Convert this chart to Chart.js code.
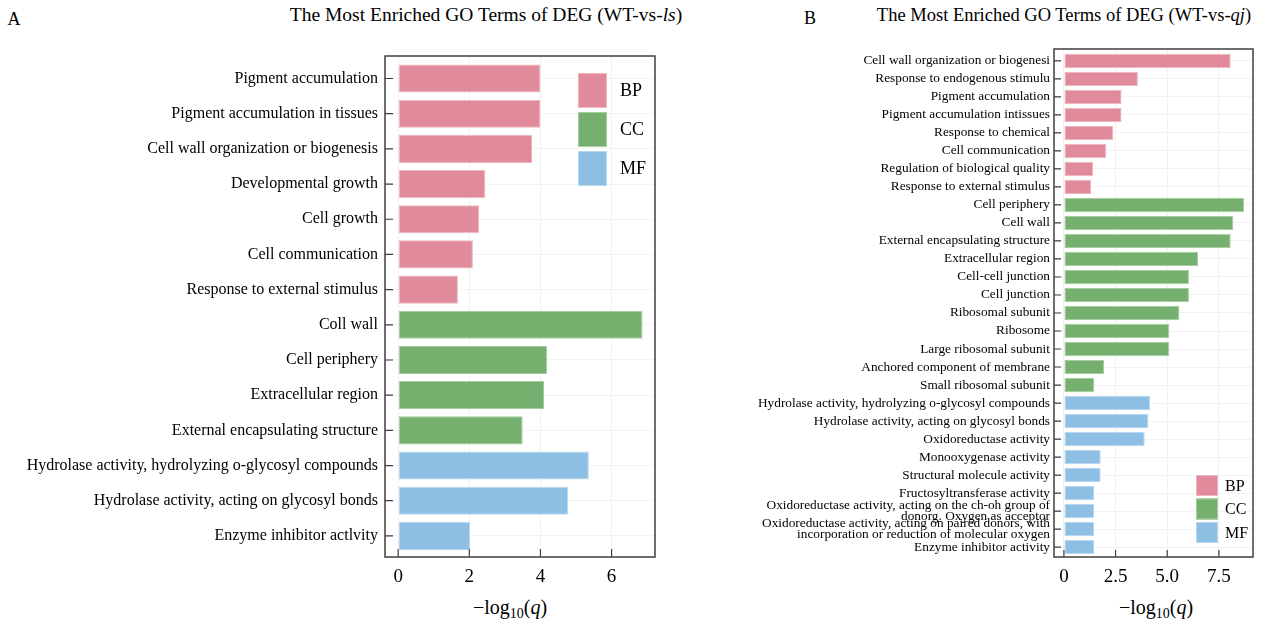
<!DOCTYPE html>
<html>
<head>
<meta charset="utf-8">
<script src="https://cdn.jsdelivr.net/npm/chart.js@4/dist/chart.umd.min.js"></script>
<style>
  html, body { margin: 0; padding: 0; background: #fff; }
  body { width: 1264px; height: 624px; position: relative; overflow: hidden;
         font-family: "Liberation Serif", "Times New Roman", serif; color: #000; }
  canvas { position: absolute; top: 0; }
  .txt { position: absolute; white-space: nowrap; transform: translate(-50%, -50%); line-height: 1; }
  .txt sub { font-size: 0.7em; vertical-align: -0.3em; line-height: 0; }
</style>
</head>
<body>
<div class="txt" style="left:14px; top:19px; font-size:18px;">A</div>
<div class="txt" style="left:486px; top:15px; font-size:19.5px;">The Most Enriched GO Terms of DEG (WT-vs-<i>ls</i>)</div>
<div class="txt" style="left:810px; top:18px; font-size:18px;">B</div>
<div class="txt" style="left:1064px; top:15px; font-size:18.5px;">The Most Enriched GO Terms of DEG (WT-vs-<i>qj</i>)</div>
<div class="txt" style="left:510px; top:607px; font-size:20px;">−log<sub>10</sub>(<i>q</i>)</div>
<div class="txt" style="left:1156px; top:607px; font-size:20px;">−log<sub>10</sub>(<i>q</i>)</div>

<canvas id="chartA" width="700" height="624" style="left:0; width:700px; height:624px;"></canvas>
<canvas id="chartB" width="564" height="624" style="left:700px; width:564px; height:624px;"></canvas>

<script>
// GO categories
const groupNames = ['BP', 'CC', 'MF'];

// Panel A: WT-vs-ls
const termsA = [
  'Pigment accumulation',
  'Pigment accumulation in tissues',
  'Cell wall organization or biogenesis',
  'Developmental growth',
  'Cell growth',
  'Cell communication',
  'Response to external stimulus',
  'Coll wall',
  'Cell periphery',
  'Extracellular region',
  'External encapsulating structure',
  'Hydrolase activity, hydrolyzing o-glycosyl compounds',
  'Hydrolase activity, acting on glycosyl bonds',
  'Enzyme inhibitor actlvity'
];
const valuesA = [4.0, 4.0, 3.77, 2.45, 2.28, 2.1, 1.68, 6.87, 4.19, 4.1, 3.5, 5.36, 4.78, 2.02];
const groupsA = ['BP','BP','BP','BP','BP','BP','BP','CC','CC','CC','CC','MF','MF','MF'];
const xTicksA = [0, 2, 4, 6];

// Panel B: WT-vs-qj
const termsB = [
  'Cell wall organization or biogenesi',
  'Response to endogenous stimulu',
  'Pigment accumulation',
  'Pigment accumulation intissues',
  'Response to chemical',
  'Cell communication',
  'Regulation of biological quality',
  'Response to external stimulus',
  'Cell periphery',
  'Cell wall',
  'External encapsulating structure',
  'Extracellular region',
  'Cell-cell junction',
  'Cell junction',
  'Ribosomal subunit',
  'Ribosome',
  'Large ribosomal subunit',
  'Anchored component of membrane',
  'Small ribosomal subunit',
  'Hydrolase activity, hydrolyzing o-glycosyl compounds',
  'Hydrolase activity, acting on glycosyl bonds',
  'Oxidoreductase activity',
  'Monooxygenase activity',
  'Structural molecule activity',
  'Fructosyltransferase activity',
  ['Oxidoreductase activity, acting on the ch-oh group of', 'donorg. Oxygen as acceptor'],
  ['Oxidoreductase activity, acting on paired donors, with', 'incorporation or reduction of molecular oxygen'],
  'Enzyme inhibitor activity'
];
const valuesB = [8.07, 3.58, 2.79, 2.79, 2.39, 2.05, 1.41, 1.31,
                 8.72, 8.2, 8.07, 6.49, 6.05, 6.05, 5.59, 5.1, 5.1, 1.94, 1.47,
                 4.17, 4.09, 3.91, 1.78, 1.78, 1.47, 1.47, 1.47, 1.47];
const groupsB = ['BP','BP','BP','BP','BP','BP','BP','BP',
                 'CC','CC','CC','CC','CC','CC','CC','CC','CC','CC','CC',
                 'MF','MF','MF','MF','MF','MF','MF','MF','MF'];
const xTicksB = [0, 2.5, 5, 7.5];

// Styling
const fill = { BP: '#E08A9B', CC: '#76B06E', MF: '#8DBFE5' };
const edge = { BP: '#EDB6C1', CC: '#A5CD9F', MF: '#B9D8F0' };
const SERIF = '"Liberation Serif", "Times New Roman", serif';

// Box around the plot area plus inward tick marks
const framePlugin = {
  id: 'frame',
  afterDatasetsDraw(chart, args, opts) {
    const { ctx, chartArea: { left, right, top, bottom }, scales: { x, y } } = chart;
    ctx.save();
    ctx.strokeStyle = opts.color;
    ctx.lineWidth = opts.width;
    ctx.strokeRect(left, top, right - left, bottom - top);
    ctx.lineWidth = 1.2;
    ctx.beginPath();
    y.ticks.forEach(t => {
      const py = y.getPixelForValue(t.value);
      ctx.moveTo(left, py); ctx.lineTo(left + opts.tick, py);
    });
    x.ticks.forEach(t => {
      const px = x.getPixelForValue(t.value);
      ctx.moveTo(px, bottom); ctx.lineTo(px, bottom - opts.tick);
    });
    ctx.stroke();
    ctx.restore();
  }
};

// Category key drawn inside the plot area
const keyPlugin = {
  id: 'groupKey',
  afterDatasetsDraw(chart, args, o) {
    const { ctx, chartArea } = chart;
    const x0 = chartArea.right - o.fromRight;
    let y0 = o.fromTop != null ? chartArea.top + o.fromTop : chartArea.bottom - o.fromBottom;
    ctx.save();
    ctx.font = o.fontSize + 'px ' + SERIF;
    ctx.textBaseline = 'middle';
    ctx.textAlign = 'left';
    groupNames.forEach((g, i) => {
      const yy = y0 + i * o.step;
      ctx.fillStyle = fill[g];
      ctx.fillRect(x0, yy, o.w, o.h);
      ctx.strokeStyle = edge[g];
      ctx.lineWidth = 1;
      ctx.strokeRect(x0 + 0.5, yy + 0.5, o.w - 1, o.h - 1);
      ctx.fillStyle = '#000';
      ctx.fillText(g, x0 + o.w + o.gap, yy + o.h / 2 + 1);
    });
    ctx.restore();
  }
};

function makeChart(id, cfg) {
  const n = cfg.terms.length;
  return new Chart(document.getElementById(id), {
    type: 'bar',
    data: {
      datasets: [{
        data: cfg.values.map((v, i) => ({ x: v, y: i })),
        backgroundColor: cfg.groups.map(g => fill[g]),
        borderColor: cfg.groups.map(g => edge[g]),
        borderWidth: 1,
        borderSkipped: false,
        barPercentage: 0.8,
        categoryPercentage: 1
      }]
    },
    options: {
      indexAxis: 'y',
      responsive: false,
      animation: false,
      events: [],
      layout: { padding: { top: cfg.padTop, right: cfg.padRight, left: 0, bottom: 0 } },
      plugins: {
        legend: { display: false },
        tooltip: { enabled: false },
        frame: { color: '#3f3f3f', width: 1.5, tick: cfg.tickLen },
        groupKey: cfg.key
      },
      scales: {
        x: {
          type: 'linear',
          min: cfg.xMin, max: cfg.xMax,
          offset: false,
          afterBuildTicks: s => { s.ticks = cfg.xTicks.map(v => ({ value: v })); },
          ticks: {
            font: { family: SERIF, size: 19 },
            color: '#000',
            padding: cfg.xPad,
            maxRotation: 0,
            callback: v => cfg.xFmt(v)
          },
          grid: { color: '#f1f1f1', drawTicks: false, offset: false },
          border: { display: false },
          afterFit: s => { s.height = cfg.xHeight; }
        },
        y: {
          type: 'linear',
          reverse: true,
          offset: false,
          min: cfg.yMin, max: n - 1 + cfg.yMaxPad,
          afterBuildTicks: s => { s.ticks = cfg.terms.map((t, i) => ({ value: i })); },
          ticks: {
            autoSkip: false,
            font: { family: SERIF, size: cfg.labelSize, lineHeight: cfg.labelLH },
            color: '#000',
            padding: cfg.yPad,
            callback: v => cfg.terms[v]
          },
          grid: { color: '#f3f3f3', drawTicks: false, offset: false },
          border: { display: false },
          afterFit: s => { s.width = cfg.yWidth; }
        }
      }
    },
    plugins: [framePlugin, keyPlugin]
  });
}

makeChart('chartA', {
  terms: termsA, values: valuesA, groups: groupsA, xTicks: xTicksA,
  xFmt: v => String(v),
  xMin: -0.37, xMax: 7.22, yMin: -0.64, yMaxPad: 0.6,
  padTop: 56, padRight: 45, yWidth: 385, xHeight: 67,
  labelSize: 16, labelLH: 1.2, yPad: 7, xPad: 9, tickLen: 8,
  key: { fromRight: 77, fromTop: 17, w: 29, h: 35, step: 39, gap: 13, fontSize: 18 }
});

makeChart('chartB', {
  terms: termsB, values: valuesB, groups: groupsB, xTicks: xTicksB,
  xFmt: v => (v === 0 ? '0' : v.toFixed(1)),
  xMin: -0.48, xMax: 9.15, yMin: -0.66, yMaxPad: 0.55,
  padTop: 49, padRight: 11, yWidth: 354, xHeight: 67,
  labelSize: 13.3, labelLH: 0.8, yPad: 4, xPad: 9, tickLen: 7,
  key: { fromRight: 57, fromBottom: 82, w: 22, h: 21, step: 23.5, gap: 7, fontSize: 16 }
});
</script>
</body>
</html>
